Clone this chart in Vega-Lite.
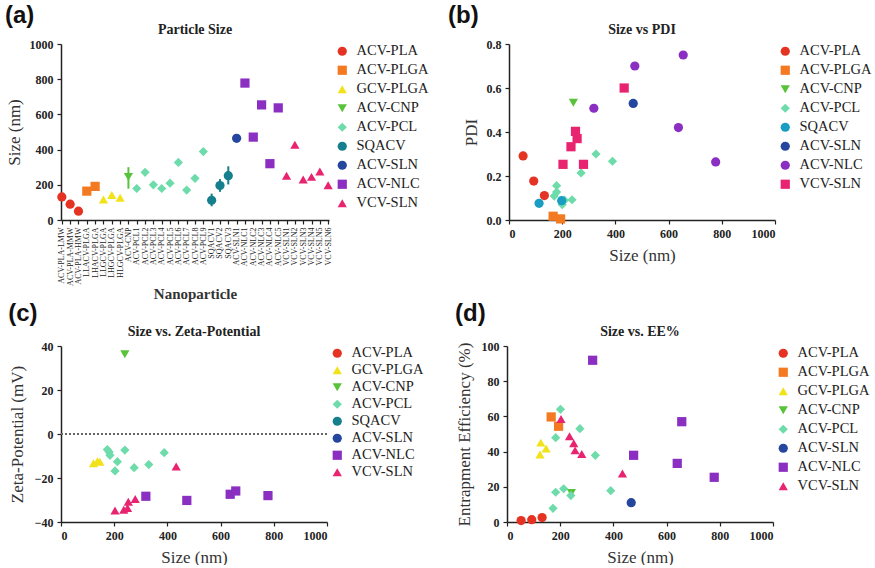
{
  "$schema": "https://vega.github.io/schema/vega-lite/v6.json",
  "background": "white",
  "padding": {"left": 5, "top": 4, "right": 0, "bottom": 0},
  "config": {
    "view": {"stroke": null},
    "font": "Liberation Serif",
    "axis": {"grid": false, "domainColor": "#222", "domainWidth": 1.5, "tickColor": "#222", "tickWidth": 1.2, "tickSize": 4, "labelPadding": 4,
      "labelFont": "Liberation Serif", "labelFontWeight": "bold", "labelFontSize": 12, "labelColor": "#222", "labelOverlap": false,
      "titleFont": "Liberation Serif", "titleFontWeight": "normal", "titleFontSize": 17, "titleColor": "#333"},
    "legend": {"labelFont": "Liberation Serif", "labelFontSize": 14.5, "labelColor": "#222", "symbolSize": 85, "symbolStrokeWidth": 0,
      "rowPadding": 4, "offset": 2, "padding": 0, "labelOffset": 7},
    "title": {"font": "Liberation Serif", "fontSize": 14, "fontWeight": "bold", "color": "#222"},
    "point": {"filled": true, "opacity": 1, "size": 85}
  },
  "datasets": {
    "a": [
      {"label": "ACV-PLA-LMW", "group": "ACV-PLA", "size": 131},
      {"label": "ACV-PLA-MMW", "group": "ACV-PLA", "size": 90},
      {"label": "ACV-PLA-HMW", "group": "ACV-PLA", "size": 50},
      {"label": "LLACV-PLGA", "group": "ACV-PLGA", "size": 164},
      {"label": "LHACV-PLGA", "group": "ACV-PLGA", "size": 191},
      {"label": "LLGCV-PLGA", "group": "GCV-PLGA", "size": 116},
      {"label": "LHGCV-PLGA", "group": "GCV-PLGA", "size": 142},
      {"label": "HLGCV-PLGA", "group": "GCV-PLGA", "size": 127},
      {"label": "ACV-CNP", "group": "ACV-CNP", "size": 245, "lo": 178, "hi": 300},
      {"label": "ACV-PCL1", "group": "ACV-PCL", "size": 179},
      {"label": "ACV-PCL2", "group": "ACV-PCL", "size": 271},
      {"label": "ACV-PCL3", "group": "ACV-PCL", "size": 200},
      {"label": "ACV-PCL4", "group": "ACV-PCL", "size": 179},
      {"label": "ACV-PCL5", "group": "ACV-PCL", "size": 209},
      {"label": "ACV-PCL6", "group": "ACV-PCL", "size": 327},
      {"label": "ACV-PCL7", "group": "ACV-PCL", "size": 170},
      {"label": "ACV-PCL8", "group": "ACV-PCL", "size": 237},
      {"label": "ACV-PCL9", "group": "ACV-PCL", "size": 389},
      {"label": "SQACV1", "group": "SQACV", "size": 112, "lo": 78, "hi": 150},
      {"label": "SQACV2", "group": "SQACV", "size": 196, "lo": 160, "hi": 232},
      {"label": "SQACV3", "group": "SQACV", "size": 252, "lo": 202, "hi": 305},
      {"label": "ACV-SLN1", "group": "ACV-SLN", "size": 464},
      {"label": "ACV-NLC1", "group": "ACV-NLC", "size": 778},
      {"label": "ACV-NLC2", "group": "ACV-NLC", "size": 471},
      {"label": "ACV-NLC3", "group": "ACV-NLC", "size": 654},
      {"label": "ACV-NLC4", "group": "ACV-NLC", "size": 320},
      {"label": "ACV-NLC5", "group": "ACV-NLC", "size": 637},
      {"label": "VCV-SLN1", "group": "VCV-SLN", "size": 252},
      {"label": "VCV-SLN2", "group": "VCV-SLN", "size": 428},
      {"label": "VCV-SLN3", "group": "VCV-SLN", "size": 230},
      {"label": "VCV-SLN4", "group": "VCV-SLN", "size": 245},
      {"label": "VCV-SLN5", "group": "VCV-SLN", "size": 275},
      {"label": "VCV-SLN6", "group": "VCV-SLN", "size": 198}
    ],
    "b": [
      {"group": "ACV-PLA", "size": 53, "pdi": 0.291}, {"group": "ACV-PLA", "size": 93, "pdi": 0.177}, {"group": "ACV-PLA", "size": 133, "pdi": 0.111},
      {"group": "ACV-PLGA", "size": 166, "pdi": 0.017}, {"group": "ACV-PLGA", "size": 194, "pdi": 0.005},
      {"group": "ACV-CNP", "size": 242, "pdi": 0.533},
      {"group": "ACV-PCL", "size": 179, "pdi": 0.156}, {"group": "ACV-PCL", "size": 271, "pdi": 0.214}, {"group": "ACV-PCL", "size": 200, "pdi": 0.07},
      {"group": "ACV-PCL", "size": 179, "pdi": 0.127}, {"group": "ACV-PCL", "size": 209, "pdi": 0.09}, {"group": "ACV-PCL", "size": 327, "pdi": 0.30},
      {"group": "ACV-PCL", "size": 170, "pdi": 0.109}, {"group": "ACV-PCL", "size": 237, "pdi": 0.092}, {"group": "ACV-PCL", "size": 389, "pdi": 0.267},
      {"group": "SQACV", "size": 113, "pdi": 0.076}, {"group": "SQACV", "size": 198, "pdi": 0.088},
      {"group": "ACV-SLN", "size": 467, "pdi": 0.53},
      {"group": "ACV-NLC", "size": 319, "pdi": 0.508}, {"group": "ACV-NLC", "size": 473, "pdi": 0.70}, {"group": "ACV-NLC", "size": 655, "pdi": 0.75},
      {"group": "ACV-NLC", "size": 637, "pdi": 0.42}, {"group": "ACV-NLC", "size": 777, "pdi": 0.264},
      {"group": "VCV-SLN", "size": 203, "pdi": 0.253}, {"group": "VCV-SLN", "size": 233, "pdi": 0.333}, {"group": "VCV-SLN", "size": 250, "pdi": 0.403},
      {"group": "VCV-SLN", "size": 256, "pdi": 0.37}, {"group": "VCV-SLN", "size": 280, "pdi": 0.253}, {"group": "VCV-SLN", "size": 433, "pdi": 0.60}
    ],
    "c": [
      {"group": "GCV-PLGA", "size": 122, "zeta": -13.3}, {"group": "GCV-PLGA", "size": 137, "zeta": -12.4}, {"group": "GCV-PLGA", "size": 146, "zeta": -12.6},
      {"group": "ACV-CNP", "size": 240, "zeta": 36.2},
      {"group": "ACV-PCL", "size": 174, "zeta": -7.1}, {"group": "ACV-PCL", "size": 181, "zeta": -8.2}, {"group": "ACV-PCL", "size": 184, "zeta": -9.7},
      {"group": "ACV-PCL", "size": 203, "zeta": -16.8}, {"group": "ACV-PCL", "size": 212, "zeta": -12.6}, {"group": "ACV-PCL", "size": 240, "zeta": -7.3},
      {"group": "ACV-PCL", "size": 275, "zeta": -15.3}, {"group": "ACV-PCL", "size": 330, "zeta": -13.9}, {"group": "ACV-PCL", "size": 388, "zeta": -8.5},
      {"group": "ACV-NLC", "size": 319, "zeta": -28.3}, {"group": "ACV-NLC", "size": 473, "zeta": -30.2}, {"group": "ACV-NLC", "size": 636, "zeta": -27.4},
      {"group": "ACV-NLC", "size": 657, "zeta": -25.9}, {"group": "ACV-NLC", "size": 778, "zeta": -28.0},
      {"group": "VCV-SLN", "size": 203, "zeta": -34.8}, {"group": "VCV-SLN", "size": 236, "zeta": -34.4}, {"group": "VCV-SLN", "size": 250, "zeta": -33.6},
      {"group": "VCV-SLN", "size": 253, "zeta": -30.8}, {"group": "VCV-SLN", "size": 279, "zeta": -29.5}, {"group": "VCV-SLN", "size": 433, "zeta": -14.8}
    ],
    "d": [
      {"group": "ACV-PLA", "size": 53, "ee": 0.8}, {"group": "ACV-PLA", "size": 93, "ee": 1.3}, {"group": "ACV-PLA", "size": 132, "ee": 2.5},
      {"group": "ACV-PLGA", "size": 166, "ee": 59.7}, {"group": "ACV-PLGA", "size": 194, "ee": 54.4},
      {"group": "GCV-PLGA", "size": 127, "ee": 45.1}, {"group": "GCV-PLGA", "size": 147, "ee": 41.7}, {"group": "GCV-PLGA", "size": 124, "ee": 38.4},
      {"group": "ACV-CNP", "size": 242, "ee": 16.5},
      {"group": "ACV-PCL", "size": 201, "ee": 64}, {"group": "ACV-PCL", "size": 183, "ee": 47.9}, {"group": "ACV-PCL", "size": 274, "ee": 53},
      {"group": "ACV-PCL", "size": 332, "ee": 37.9}, {"group": "ACV-PCL", "size": 183, "ee": 16.9}, {"group": "ACV-PCL", "size": 213, "ee": 18.9},
      {"group": "ACV-PCL", "size": 173, "ee": 7.8}, {"group": "ACV-PCL", "size": 390, "ee": 17.8}, {"group": "ACV-PCL", "size": 240, "ee": 15},
      {"group": "ACV-SLN", "size": 467, "ee": 11},
      {"group": "ACV-NLC", "size": 322, "ee": 91.9}, {"group": "ACV-NLC", "size": 476, "ee": 37.9}, {"group": "ACV-NLC", "size": 640, "ee": 33.3},
      {"group": "ACV-NLC", "size": 657, "ee": 57}, {"group": "ACV-NLC", "size": 779, "ee": 25.4},
      {"group": "VCV-SLN", "size": 203, "ee": 58.5}, {"group": "VCV-SLN", "size": 235, "ee": 48.7}, {"group": "VCV-SLN", "size": 251, "ee": 44.7},
      {"group": "VCV-SLN", "size": 256, "ee": 40.7}, {"group": "VCV-SLN", "size": 281, "ee": 38.6}, {"group": "VCV-SLN", "size": 434, "ee": 27.5}
    ]
  },
  "resolve": {"scale": {"color": "independent", "shape": "independent"}, "legend": {"color": "independent", "shape": "independent"}},
  "spacing": 0,
  "vconcat": [
    {
      "resolve": {"scale": {"color": "independent", "shape": "independent"}, "legend": {"color": "independent", "shape": "independent"}},
      "spacing": 19,
      "hconcat": [
        {
          "title": {"text": "(a)", "anchor": "start", "frame": "bounds", "font": "Liberation Sans", "fontSize": 24, "fontWeight": "bold", "color": "#111", "offset": -5},
          "vconcat": [
            {
              "title": {"text": "Particle Size", "offset": 1},
              "width": 268, "height": 176,
              "data": {"name": "a"},
              "layer": [
                {
                  "transform": [{"filter": "datum.lo != null"}],
                  "mark": {"type": "rule", "strokeWidth": 2},
                  "encoding": {
                    "x": {"field": "label", "type": "nominal", "sort": null},
                    "y": {"field": "lo", "type": "quantitative", "scale": {"domain": [0, 1000], "nice": false},
                      "axis": {"title": "Size (nm)", "values": [0, 200, 400, 600, 800, 1000], "format": "d", "titlePadding": 6}},
                    "y2": {"field": "hi"},
                    "color": {"field": "group", "type": "nominal", "title": null}
                  }
                },
                {
                  "mark": {"type": "point"},
                  "encoding": {
                    "x": {"field": "label", "type": "nominal", "sort": null,
                      "scale": {"type": "point", "padding": 0.1,
                        "domain": ["ACV-PLA-LMW", "ACV-PLA-MMW", "ACV-PLA-HMW", "LLACV-PLGA", "LHACV-PLGA", "LLGCV-PLGA", "LHGCV-PLGA", "HLGCV-PLGA", "ACV-CNP",
                          "ACV-PCL1", "ACV-PCL2", "ACV-PCL3", "ACV-PCL4", "ACV-PCL5", "ACV-PCL6", "ACV-PCL7", "ACV-PCL8", "ACV-PCL9",
                          "SQACV1", "SQACV2", "SQACV3", "ACV-SLN1", "ACV-NLC1", "ACV-NLC2", "ACV-NLC3", "ACV-NLC4", "ACV-NLC5",
                          "VCV-SLN1", "VCV-SLN2", "VCV-SLN3", "VCV-SLN4", "VCV-SLN5", "VCV-SLN6"]},
                      "axis": {"title": "Nanoparticle", "titleFontWeight": "bold", "titleFontSize": 15, "labelAngle": -90, "labelFontSize": 8, "labelFontWeight": "normal", "labelPadding": 3, "titlePadding": 1}},
                    "y": {"field": "size", "type": "quantitative", "scale": {"domain": [0, 1000], "nice": false},
                      "axis": {"title": "Size (nm)", "values": [0, 200, 400, 600, 800, 1000], "format": "d", "titlePadding": 6}},
                    "color": {"field": "group", "type": "nominal", "title": null,
                      "scale": {"domain": ["ACV-PLA", "ACV-PLGA", "GCV-PLGA", "ACV-CNP", "ACV-PCL", "SQACV", "ACV-SLN", "ACV-NLC", "VCV-SLN"],
                        "range": ["#e53323", "#f47a22", "#f2e21a", "#58c23b", "#6edbaa", "#167f8e", "#24469f", "#8a2fc1", "#e8236f"]}},
                    "shape": {"field": "group", "type": "nominal", "title": null,
                      "scale": {"domain": ["ACV-PLA", "ACV-PLGA", "GCV-PLGA", "ACV-CNP", "ACV-PCL", "SQACV", "ACV-SLN", "ACV-NLC", "VCV-SLN"],
                        "range": ["circle", "square", "triangle-up", "triangle-down", "diamond", "circle", "circle", "square", "triangle-up"]}}
                  }
                }
              ]
            }
          ]
        },
        {
          "title": {"text": "(b)", "anchor": "start", "frame": "bounds", "font": "Liberation Sans", "fontSize": 24, "fontWeight": "bold", "color": "#111", "offset": -5, "dx": -14},
          "vconcat": [
            {
              "title": {"text": "Size vs PDI", "offset": 1},
              "width": 266, "height": 176,
              "data": {"name": "b"},
              "mark": {"type": "point"},
              "encoding": {
                "x": {"field": "size", "type": "quantitative", "scale": {"domain": [0, 1000], "nice": false},
                  "axis": {"title": "Size (nm)", "values": [0, 200, 400, 600, 800, 1000], "format": "d", "titlePadding": 8}},
                "y": {"field": "pdi", "type": "quantitative", "scale": {"domain": [0, 0.8], "nice": false},
                  "axis": {"title": "PDI", "values": [0, 0.2, 0.4, 0.6, 0.8], "format": ".1f", "titlePadding": 6}},
                "color": {"field": "group", "type": "nominal", "title": null,
                  "scale": {"domain": ["ACV-PLA", "ACV-PLGA", "ACV-CNP", "ACV-PCL", "SQACV", "ACV-SLN", "ACV-NLC", "VCV-SLN"],
                    "range": ["#e53323", "#f47a22", "#58c23b", "#6edbaa", "#1a9dc2", "#24469f", "#8a2fc1", "#e8236f"]}},
                "shape": {"field": "group", "type": "nominal", "title": null,
                  "scale": {"domain": ["ACV-PLA", "ACV-PLGA", "ACV-CNP", "ACV-PCL", "SQACV", "ACV-SLN", "ACV-NLC", "VCV-SLN"],
                    "range": ["circle", "square", "triangle-down", "diamond", "circle", "circle", "circle", "square"]}}
              }
            }
          ]
        }
      ]
    },
    {
      "resolve": {"scale": {"color": "independent", "shape": "independent"}, "legend": {"color": "independent", "shape": "independent"}},
      "spacing": 31,
      "hconcat": [
        {
          "title": {"text": "(c)", "anchor": "start", "frame": "bounds", "font": "Liberation Sans", "fontSize": 24, "fontWeight": "bold", "color": "#111", "offset": -1},
          "vconcat": [
            {
              "title": {"text": "Size vs. Zeta-Potential", "offset": 1},
              "width": 266, "height": 176,
              "data": {"name": "c"},
              "layer": [
                {
                  "mark": {"type": "rule", "strokeDash": [2, 2], "color": "#666", "strokeWidth": 1},
                  "encoding": {"y": {"datum": 0, "type": "quantitative"}}
                },
                {
                  "mark": {"type": "point"},
                  "encoding": {
                    "x": {"field": "size", "type": "quantitative", "scale": {"domain": [0, 1000], "nice": false},
                      "axis": {"title": "Size (nm)", "values": [0, 200, 400, 600, 800, 1000], "format": "d", "titlePadding": 8}},
                    "y": {"field": "zeta", "type": "quantitative", "scale": {"domain": [-40, 40], "nice": false},
                      "axis": {"title": "Zeta-Potential (mV)", "values": [-40, -20, 0, 20, 40], "titlePadding": 8}},
                    "color": {"field": "group", "type": "nominal", "title": null, "legend": {"rowPadding": 2},
                      "scale": {"domain": ["ACV-PLA", "GCV-PLGA", "ACV-CNP", "ACV-PCL", "SQACV", "ACV-SLN", "ACV-NLC", "VCV-SLN"],
                        "range": ["#e53323", "#f2e21a", "#58c23b", "#6edbaa", "#167f8e", "#24469f", "#8a2fc1", "#e8236f"]}},
                    "shape": {"field": "group", "type": "nominal", "title": null, "legend": {"rowPadding": 2},
                      "scale": {"domain": ["ACV-PLA", "GCV-PLGA", "ACV-CNP", "ACV-PCL", "SQACV", "ACV-SLN", "ACV-NLC", "VCV-SLN"],
                        "range": ["circle", "triangle-up", "triangle-down", "diamond", "circle", "circle", "square", "triangle-up"]}}
                  }
                }
              ]
            }
          ]
        },
        {
          "title": {"text": "(d)", "anchor": "start", "frame": "bounds", "font": "Liberation Sans", "fontSize": 24, "fontWeight": "bold", "color": "#111", "offset": -1},
          "vconcat": [
            {
              "title": {"text": "Size vs. EE%", "offset": 1},
              "width": 266, "height": 176,
              "data": {"name": "d"},
              "mark": {"type": "point"},
              "encoding": {
                "x": {"field": "size", "type": "quantitative", "scale": {"domain": [0, 1000], "nice": false},
                  "axis": {"title": "Size (nm)", "values": [0, 200, 400, 600, 800, 1000], "format": "d", "titlePadding": 8}},
                "y": {"field": "ee", "type": "quantitative", "scale": {"domain": [0, 100], "nice": false},
                  "axis": {"title": "Entrapment Efficiency (%)", "values": [0, 20, 40, 60, 80, 100], "titlePadding": 8}},
                "color": {"field": "group", "type": "nominal", "title": null,
                  "scale": {"domain": ["ACV-PLA", "ACV-PLGA", "GCV-PLGA", "ACV-CNP", "ACV-PCL", "ACV-SLN", "ACV-NLC", "VCV-SLN"],
                    "range": ["#e53323", "#f47a22", "#f2e21a", "#58c23b", "#6edbaa", "#24469f", "#8a2fc1", "#e8236f"]}},
                "shape": {"field": "group", "type": "nominal", "title": null,
                  "scale": {"domain": ["ACV-PLA", "ACV-PLGA", "GCV-PLGA", "ACV-CNP", "ACV-PCL", "ACV-SLN", "ACV-NLC", "VCV-SLN"],
                    "range": ["circle", "square", "triangle-up", "triangle-down", "diamond", "circle", "square", "triangle-up"]}}
              }
            }
          ]
        }
      ]
    }
  ]
}
